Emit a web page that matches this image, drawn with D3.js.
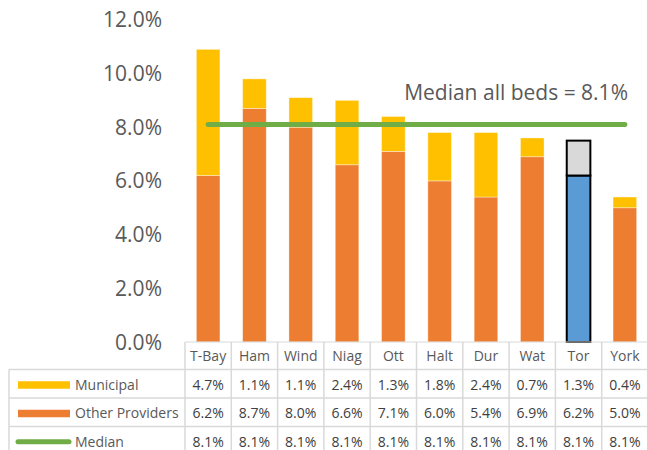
<!DOCTYPE html>
<html>
<head>
<meta charset="utf-8">
<script src="https://cdn.jsdelivr.net/npm/d3@7"></script>
<style>
  body { margin: 0; background: #fff; }
  svg { display: block; font-family: 'Open Sans', sans-serif; }
</style>
</head>
<body>
<svg id="chart" width="647" height="450"></svg>
<script>
// Data
var categories = ['T-Bay', 'Ham', 'Wind', 'Niag', 'Ott', 'Halt', 'Dur', 'Wat', 'Tor', 'York']
var municipal = [4.7, 1.1, 1.1, 2.4, 1.3, 1.8, 2.4, 0.7, 1.3, 0.4]
var otherProviders = [6.2, 8.7, 8.0, 6.6, 7.1, 6.0, 5.4, 6.9, 6.2, 5.0]
var median = [8.1, 8.1, 8.1, 8.1, 8.1, 8.1, 8.1, 8.1, 8.1, 8.1]
var yTicks = [0, 2, 4, 6, 8, 10, 12]
var highlight = 'Tor'
var medianLabel = 'Median all beds = 8.1%'

var conf = {
  width: 647,
  height: 450,
  left: 185,
  right: 648,
  top: 19.8,
  bottom: 342,
  rowHeight: 28.5,
  tableLeft: 9,
  grid: '#d9d9d9',
  text: '#595959',
  cellText: '#404040'
}

var colors = {
  municipal: '#ffc000',
  other: '#ed7d31',
  median: '#70ad47',
  hiTop: '#d9d9d9',
  hiBottom: '#5b9bd5'
}

var svg = d3.select('#chart')

// Scales
var x = d3.scaleBand()
  .domain(categories)
  .range([conf.left, conf.right])
  .paddingInner(0.49)
  .paddingOuter(0.245)

var col = d3.scaleBand()
  .domain(categories)
  .range([conf.left, conf.right])

var y = d3.scaleLinear()
  .domain([0, 12])
  .range([conf.bottom, conf.top])

var rows = categories.map(function (c, i) {
  return { cat: c, mun: municipal[i], oth: otherProviders[i], med: median[i] }
})

// Y axis labels
svg.append('g')
  .selectAll('text')
  .data(yTicks)
  .enter()
  .append('text')
  .attr('x', 162)
  .attr('y', function (d) { return y(d) })
  .attr('dy', '0.36em')
  .attr('text-anchor', 'end')
  .attr('fill', conf.text)
  .style('font-size', '21px')
  .text(function (d) { return d3.format('.1f')(d) + '%' })

// Bars
var bars = svg.append('g')
  .selectAll('g.bar')
  .data(rows)
  .enter()
  .append('g')
  .attr('class', 'bar')

bars.append('rect')
  .attr('x', function (d) { return x(d.cat) })
  .attr('width', x.bandwidth())
  .attr('y', function (d) { return y(d.oth) })
  .attr('height', function (d) { return y(0) - y(d.oth) })
  .attr('fill', function (d) { return d.cat === highlight ? colors.hiBottom : colors.other })
  .attr('stroke', function (d) { return d.cat === highlight ? '#000' : 'rgba(255,255,255,0.5)' })
  .attr('stroke-width', function (d) { return d.cat === highlight ? 2 : 0.75 })

bars.append('rect')
  .attr('x', function (d) { return x(d.cat) })
  .attr('width', x.bandwidth())
  .attr('y', function (d) { return y(d.oth + d.mun) })
  .attr('height', function (d) { return y(d.oth) - y(d.oth + d.mun) })
  .attr('fill', function (d) { return d.cat === highlight ? colors.hiTop : colors.municipal })
  .attr('stroke', function (d) { return d.cat === highlight ? '#000' : 'rgba(255,255,255,0.5)' })
  .attr('stroke-width', function (d) { return d.cat === highlight ? 2 : 0.75 })

// Median line
var line = d3.line()
  .x(function (d) { return x(d.cat) + x.bandwidth() / 2 })
  .y(function (d) { return y(d.med) })

svg.append('path')
  .datum(rows)
  .attr('d', line)
  .attr('fill', 'none')
  .attr('stroke', colors.median)
  .attr('stroke-width', 5)
  .attr('stroke-linecap', 'round')

svg.append('text')
  .attr('x', 628)
  .attr('y', 100)
  .attr('text-anchor', 'end')
  .attr('fill', conf.text)
  .style('font-size', '21px')
  .text(medianLabel)

// Data table
var table = svg.append('g')
var headTop = conf.bottom

// horizontal lines
table.append('line')
  .attr('x1', conf.left).attr('x2', conf.right)
  .attr('y1', headTop).attr('y2', headTop)
  .attr('stroke', conf.grid);

[1, 2, 3, 4].forEach(function (i) {
  var yy = headTop + conf.rowHeight * i - 1
  table.append('line')
    .attr('x1', conf.tableLeft).attr('x2', conf.right)
    .attr('y1', yy).attr('y2', yy)
    .attr('stroke', conf.grid)
    .attr('stroke-width', 1.5)
})

// vertical lines
categories.concat(['end']).forEach(function (c, i) {
  var xx = conf.left + col.step() * i
  table.append('line')
    .attr('x1', xx).attr('x2', xx)
    .attr('y1', headTop).attr('y2', conf.height)
    .attr('stroke', conf.grid)
    .attr('stroke-width', 1.5)
})
table.append('line')
  .attr('x1', conf.tableLeft).attr('x2', conf.tableLeft)
  .attr('y1', headTop + conf.rowHeight - 1).attr('y2', conf.height)
  .attr('stroke', conf.grid)
  .attr('stroke-width', 1.5)

// header labels
table.selectAll('text.head')
  .data(categories)
  .enter()
  .append('text')
  .attr('class', 'head')
  .attr('x', function (d) { return col(d) + col.bandwidth() / 2 })
  .attr('y', headTop + conf.rowHeight / 2)
  .attr('dy', '0.36em')
  .attr('text-anchor', 'middle')
  .attr('fill', conf.text)
  .style('font-size', '14px')
  .text(function (d) { return d })

var series = [
  { name: 'Municipal', values: municipal, color: colors.municipal, kind: 'rect' },
  { name: 'Other Providers', values: otherProviders, color: colors.other, kind: 'rect' },
  { name: 'Median', values: median, color: colors.median, kind: 'line' }
]

series.forEach(function (s, r) {
  var cy = headTop + conf.rowHeight * (r + 1.5)
  if (s.kind === 'rect') {
    table.append('rect')
      .attr('x', 18).attr('y', cy - 3.5)
      .attr('width', 52).attr('height', 7.5)
      .attr('fill', s.color)
  } else {
    table.append('line')
      .attr('x1', 18).attr('x2', 69)
      .attr('y1', cy).attr('y2', cy)
      .attr('stroke', s.color)
      .attr('stroke-width', 5)
      .attr('stroke-linecap', 'round')
  }
  table.append('text')
    .attr('x', 75)
    .attr('y', cy)
    .attr('dy', '0.36em')
    .attr('fill', conf.text)
    .style('font-size', '14px')
    .text(s.name)

  table.selectAll('text.v' + r)
    .data(s.values)
    .enter()
    .append('text')
    .attr('class', 'v' + r)
    .attr('x', function (d, i) { return col(categories[i]) + col.bandwidth() / 2 })
    .attr('y', cy)
    .attr('dy', '0.36em')
    .attr('text-anchor', 'middle')
    .attr('fill', conf.cellText)
    .style('font-size', '14px')
    .text(function (d) { return d3.format('.1f')(d) + '%' })
})
</script>
</body>
</html>
